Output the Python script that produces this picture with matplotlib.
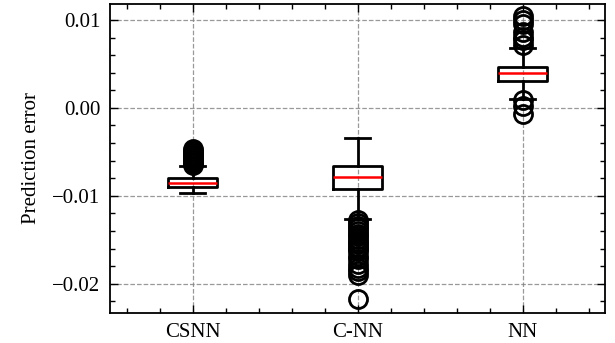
import matplotlib
matplotlib.use('Agg')
from matplotlib import pyplot as plt
from matplotlib.ticker import AutoMinorLocator, MultipleLocator

# box statistics
labels = ['CSNN', 'C-NN', 'NN']
medians = [-0.00852, -0.00784, 0.00398]
q1 = [-0.00898, -0.00920, 0.00307]
q3 = [-0.00795, -0.00659, 0.00466]
whislo = [-0.00966, -0.01260, 0.00102]
whishi = [-0.00659, -0.00340, 0.00682]

fliers_csnn = [-0.0047, -0.0049, -0.0051, -0.0053, -0.0055, -0.0057,
               -0.0059, -0.0061, -0.0063, -0.0065]
fliers_cnn = [-0.0128, -0.0131, -0.0134, -0.0137, -0.0140, -0.0143,
              -0.0146, -0.0149, -0.0152, -0.0155, -0.0158, -0.0161,
              -0.0163, -0.0168, -0.0172, -0.0178, -0.0182, -0.0185,
              -0.0190, -0.0217]
fliers_nn = [0.0104, 0.0100, 0.0095, 0.0086, 0.0081, 0.0077, 0.0072,
             0.0009, 0.0002, -0.0007]

plt.rcParams['font.family'] = ['Liberation Serif', 'DejaVu Serif']
plt.rcParams['font.size'] = 15

stats = []
for i, lab in enumerate(labels):
    stats.append({'label': lab, 'med': medians[i], 'q1': q1[i], 'q3': q3[i],
                  'whislo': whislo[i], 'whishi': whishi[i],
                  'fliers': [fliers_csnn, fliers_cnn, fliers_nn][i]})

fig = plt.figure(figsize=(6.15, 3.43), dpi=100)
ax = fig.add_axes([0.179, 0.088, 0.805, 0.9])

ax.bxp(stats, widths=0.3,
       boxprops=dict(color='black', linewidth=2.0),
       whiskerprops=dict(color='black', linewidth=2.0),
       capprops=dict(color='black', linewidth=2.0),
       medianprops=dict(color='red', linewidth=1.8),
       flierprops=dict(marker='o', markerfacecolor='none',
                       markeredgecolor='black', markersize=13,
                       markeredgewidth=2.0))

ax.set_xlim(0.5, 3.5)
ax.set_ylim(-0.0233, 0.0118)
ax.yaxis.set_major_locator(MultipleLocator(0.01))
ax.yaxis.set_minor_locator(AutoMinorLocator(5))
ax.xaxis.set_minor_locator(AutoMinorLocator(5))
ax.yaxis.set_major_formatter(matplotlib.ticker.FuncFormatter(
    lambda v, p: ('%.2f' % v).replace('-', '\u2212')))

ax.tick_params(which='both', direction='in', top=True, right=True)
ax.tick_params(which='major', length=6, width=1, pad=7)
ax.tick_params(which='minor', length=3.5, width=1)
for s in ax.spines.values():
    s.set_linewidth(1.3)

ax.grid(True, which='major', linestyle='--', color='gray', alpha=0.8,
        linewidth=0.9)
ax.set_ylabel('Prediction error', labelpad=8)

plt.savefig('out.png', dpi=100)
